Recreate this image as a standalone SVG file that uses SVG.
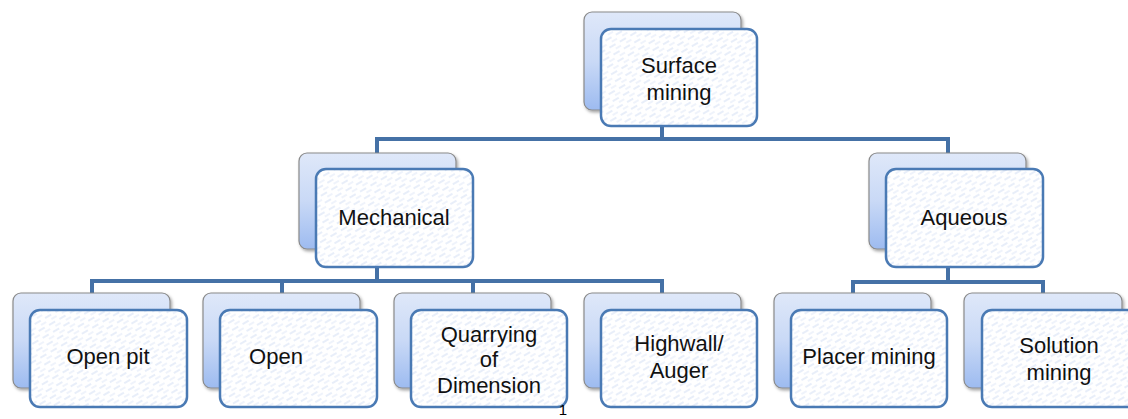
<svg xmlns="http://www.w3.org/2000/svg" width="1128" height="419" viewBox="0 0 1128 419">
<defs>
<linearGradient id="bg" x1="0" y1="0" x2="0" y2="1">
<stop offset="0" stop-color="#dfe8f9"/>
<stop offset="0.5" stop-color="#c9d9f6"/>
<stop offset="1" stop-color="#9dbbf0"/>
</linearGradient>
<pattern id="hatch" width="12" height="8" patternUnits="userSpaceOnUse" patternTransform="rotate(-30)">
<rect width="12" height="8" fill="#ffffff"/>
<line x1="0" y1="2" x2="7" y2="2" stroke="#d2def4" stroke-width="1"/>
<line x1="5" y1="6" x2="11" y2="6" stroke="#dfe7f7" stroke-width="1"/>
</pattern>
<filter id="sh" x="-10%" y="-10%" width="125%" height="130%">
<feDropShadow dx="1.5" dy="2" stdDeviation="1.5" flood-color="#000" flood-opacity="0.35"/>
</filter>
</defs>
<style>
.back{fill:url(#bg);stroke:#8a8a8a;stroke-width:1.2;filter:url(#sh)}
.front{fill:url(#hatch);stroke:#4a7ab4;stroke-width:2.5}
.t{font-family:"Liberation Sans",Arial,sans-serif;font-size:22px;fill:#111;text-anchor:middle}
.con{fill:none;stroke:#4571a6;stroke-width:4}
</style>
<g id="connectors">
<path class="con" d="M662,126 V139 M377,153 V139 H948 V153"/>
<path class="con" d="M377,267 V281 M92,293 V281 H662 V293 M282,281 V293 M473,281 V293"/>
<path class="con" d="M948,267 V282 M853,293 V282 H1043 V293"/>
</g>
<g id="surface-mining">
<rect class="back" x="584" y="12" width="157" height="98" rx="8"/>
<rect class="front" x="601" y="29" width="156" height="97" rx="10"/>
<text class="t" x="679" y="73">Surface</text>
<text class="t" x="679" y="100">mining</text>
</g>
<g id="mechanical">
<rect class="back" x="299" y="153" width="157" height="96" rx="8"/>
<rect class="front" x="316" y="169" width="157" height="98" rx="10"/>
<text class="t" x="394" y="225">Mechanical</text>
</g>
<g id="aqueous">
<rect class="back" x="869" y="153" width="157" height="96" rx="8"/>
<rect class="front" x="886" y="169" width="157" height="98" rx="10"/>
<text class="t" x="964" y="225">Aqueous</text>
</g>
<g id="open-pit">
<rect class="back" x="13" y="293" width="157" height="95" rx="8"/>
<rect class="front" x="30" y="310" width="157" height="97" rx="10"/>
<text class="t" x="108" y="364">Open pit</text>
</g>
<g id="open">
<rect class="back" x="203" y="293" width="157" height="95" rx="8"/>
<rect class="front" x="220" y="310" width="157" height="97" rx="10"/>
<text class="t" x="276" y="364">Open</text>
</g>
<g id="quarrying">
<rect class="back" x="394" y="293" width="157" height="95" rx="8"/>
<rect class="front" x="411" y="310" width="156" height="97" rx="10"/>
<text class="t" x="489" y="342">Quarrying</text>
<text class="t" x="489" y="367">of</text>
<text class="t" x="489" y="393">Dimension</text>
</g>
<g id="highwall">
<rect class="back" x="584" y="293" width="157" height="95" rx="8"/>
<rect class="front" x="601" y="310" width="156" height="97" rx="10"/>
<text class="t" x="679" y="351">Highwall/</text>
<text class="t" x="679" y="378">Auger</text>
</g>
<g id="placer-mining">
<rect class="back" x="774" y="293" width="157" height="95" rx="8"/>
<rect class="front" x="791" y="310" width="156" height="97" rx="10"/>
<text class="t" x="869" y="364">Placer mining</text>
</g>
<g id="solution-mining">
<rect class="back" x="964" y="293" width="158" height="95" rx="8"/>
<rect class="front" x="982" y="310" width="157" height="97" rx="10"/>
<text class="t" x="1059" y="353">Solution</text>
<text class="t" x="1059" y="380">mining</text>
</g>
<text x="563" y="415" style="font-family:'Liberation Sans',Arial,sans-serif;font-size:15px;fill:#000;text-anchor:middle">1</text>
</svg>
